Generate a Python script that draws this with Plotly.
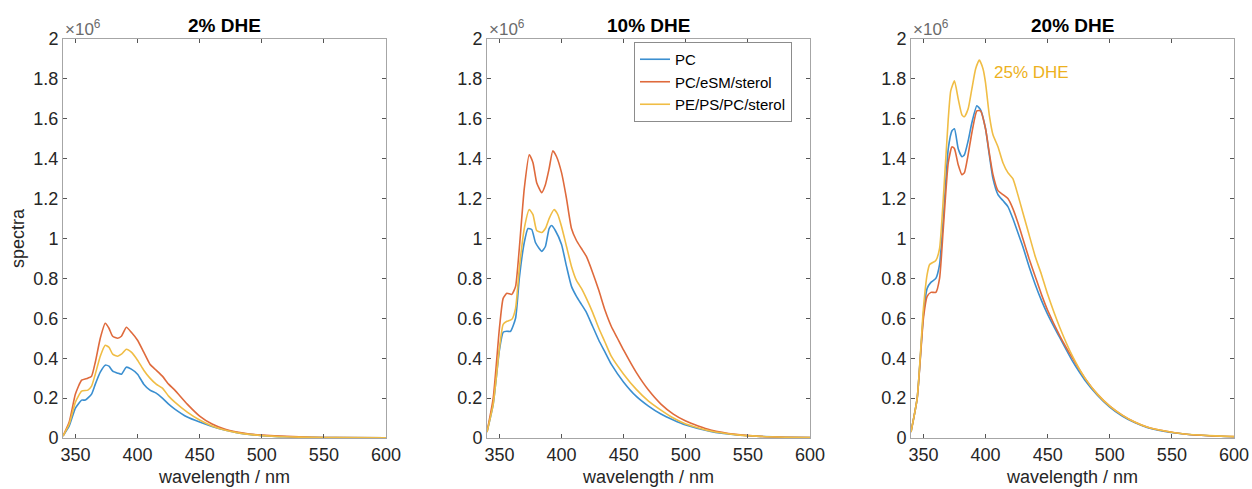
import plotly.graph_objects as go

# ---------------- data (values in units of 1e6) ----------------
titles = ["2% DHE", "10% DHE", "20% DHE"]
series_names = ["PC", "PC/eSM/sterol", "PE/PS/PC/sterol"]
colors = ["#3b8fd0", "#df6a3c", "#f0bd45"]

# Panel 1: 2% DHE
p1_pc_x = [340, 345, 350, 355, 358, 363, 366, 370, 374, 377, 380, 384, 387, 391, 395, 400, 405, 410, 415, 420, 425, 430, 440, 450, 460, 470, 480, 490, 500, 520, 540, 560, 600]
p1_pc_y = [0.01, 0.06, 0.15, 0.19, 0.19, 0.22, 0.27, 0.33, 0.365, 0.36, 0.335, 0.325, 0.32, 0.355, 0.345, 0.32, 0.27, 0.24, 0.225, 0.20, 0.17, 0.145, 0.105, 0.08, 0.058, 0.04, 0.027, 0.018, 0.012, 0.006, 0.003, 0.002, 0.001]
p1_sm_x = [340, 345, 350, 355, 360, 363, 366, 370, 374, 377, 380, 384, 387, 391, 395, 400, 405, 410, 415, 420, 425, 430, 440, 450, 460, 470, 480, 490, 500, 520, 540, 560, 600]
p1_sm_y = [0.01, 0.08, 0.22, 0.29, 0.30, 0.31, 0.38, 0.50, 0.575, 0.55, 0.51, 0.50, 0.51, 0.555, 0.53, 0.49, 0.43, 0.37, 0.34, 0.31, 0.27, 0.24, 0.17, 0.11, 0.07, 0.045, 0.03, 0.02, 0.015, 0.008, 0.004, 0.002, 0.001]
p1_pe_x = [340, 345, 350, 355, 360, 363, 366, 370, 374, 377, 380, 384, 387, 391, 395, 400, 405, 410, 415, 420, 425, 430, 440, 450, 460, 470, 480, 490, 500, 520, 540, 560, 600]
p1_pe_y = [0.01, 0.07, 0.18, 0.235, 0.24, 0.26, 0.32, 0.41, 0.465, 0.455, 0.42, 0.41, 0.42, 0.445, 0.43, 0.39, 0.34, 0.30, 0.27, 0.25, 0.21, 0.18, 0.13, 0.09, 0.06, 0.04, 0.027, 0.018, 0.012, 0.006, 0.003, 0.002, 0.001]

# Panel 2: 10% DHE
p2_pc_x = [340, 345, 350, 353, 356, 359, 363, 366, 370, 373, 376, 379, 382, 384, 387, 390, 392, 395, 400, 404, 408, 412, 416, 420, 425, 430, 435, 440, 450, 460, 470, 480, 490, 500, 520, 540, 560, 580, 600]
p2_pc_y = [0.03, 0.17, 0.44, 0.53, 0.535, 0.535, 0.60, 0.80, 0.98, 1.05, 1.045, 0.98, 0.95, 0.935, 0.96, 1.05, 1.065, 1.04, 0.97, 0.86, 0.76, 0.71, 0.67, 0.63, 0.56, 0.49, 0.43, 0.37, 0.28, 0.21, 0.16, 0.12, 0.09, 0.065, 0.033, 0.016, 0.008, 0.004, 0.002]
p2_sm_x = [340, 345, 350, 353, 356, 360, 363, 366, 370, 374, 377, 380, 384, 387, 390, 393, 396, 400, 404, 408, 412, 416, 420, 425, 430, 435, 440, 445, 450, 460, 470, 480, 490, 500, 510, 520, 540, 560, 580, 600]
p2_sm_y = [0.03, 0.20, 0.55, 0.70, 0.725, 0.72, 0.76, 0.95, 1.25, 1.42, 1.38, 1.28, 1.23, 1.27, 1.35, 1.44, 1.41, 1.33, 1.20, 1.05, 0.99, 0.95, 0.91, 0.83, 0.74, 0.64, 0.56, 0.50, 0.44, 0.33, 0.24, 0.17, 0.12, 0.085, 0.06, 0.04, 0.018, 0.008, 0.004, 0.002]
p2_pe_x = [340, 345, 350, 353, 356, 360, 363, 366, 370, 374, 377, 380, 384, 387, 390, 394, 397, 400, 404, 408, 412, 416, 420, 425, 430, 435, 440, 450, 460, 470, 480, 490, 500, 520, 540, 560, 580, 600]
p2_pe_y = [0.03, 0.17, 0.45, 0.57, 0.585, 0.595, 0.65, 0.85, 1.05, 1.145, 1.12, 1.04, 1.03, 1.05, 1.10, 1.145, 1.12, 1.06, 0.96, 0.86, 0.79, 0.75, 0.70, 0.63, 0.55, 0.48, 0.41, 0.32, 0.245, 0.185, 0.14, 0.10, 0.07, 0.035, 0.017, 0.008, 0.004, 0.002]

# Panel 3: 20% DHE (PE/PS/PC/sterol at 25% DHE)
p3_pc_x = [340, 345, 350, 353, 356, 360, 363, 366, 370, 373, 375, 378, 381, 383, 386, 389, 393, 396, 400, 403, 406, 410, 414, 418, 422, 426, 430, 435, 440, 445, 450, 460, 470, 480, 490, 500, 510, 520, 530, 540, 560, 580, 600]
p3_pc_y = [0.03, 0.20, 0.62, 0.75, 0.78, 0.80, 0.87, 1.10, 1.45, 1.54, 1.55, 1.45, 1.41, 1.42, 1.49, 1.58, 1.665, 1.645, 1.55, 1.42, 1.30, 1.22, 1.19, 1.16, 1.10, 1.03, 0.96, 0.86, 0.77, 0.69, 0.62, 0.50, 0.385, 0.29, 0.215, 0.155, 0.11, 0.077, 0.053, 0.038, 0.02, 0.011, 0.006]
p3_sm_x = [340, 345, 350, 353, 356, 360, 363, 366, 370, 373, 375, 378, 381, 383, 386, 389, 393, 396, 400, 403, 406, 410, 414, 418, 422, 426, 430, 435, 440, 445, 450, 460, 470, 480, 490, 500, 510, 520, 530, 540, 560, 580, 600]
p3_sm_y = [0.03, 0.20, 0.60, 0.71, 0.73, 0.73, 0.80, 1.05, 1.38, 1.46, 1.45, 1.37, 1.32, 1.33, 1.42, 1.53, 1.64, 1.64, 1.55, 1.43, 1.32, 1.24, 1.22, 1.20, 1.15, 1.08, 1.00, 0.90, 0.81, 0.72, 0.64, 0.51, 0.40, 0.30, 0.22, 0.16, 0.115, 0.08, 0.055, 0.04, 0.02, 0.011, 0.007]
p3_pe_x = [340, 345, 350, 353, 355, 360, 363, 366, 370, 372, 375, 378, 381, 383, 386, 389, 392, 395, 398, 400, 403, 406, 410, 414, 418, 422, 426, 430, 435, 440, 445, 450, 460, 470, 480, 490, 500, 510, 520, 530, 540, 560, 580, 600]
p3_pe_y = [0.03, 0.20, 0.65, 0.82, 0.87, 0.89, 0.95, 1.20, 1.60, 1.74, 1.79, 1.70, 1.62, 1.61, 1.65, 1.75, 1.85, 1.895, 1.85, 1.78, 1.62, 1.52, 1.46, 1.38, 1.33, 1.30, 1.22, 1.13, 1.02, 0.91, 0.82, 0.72, 0.55, 0.41, 0.30, 0.22, 0.16, 0.115, 0.08, 0.055, 0.04, 0.02, 0.012, 0.007]

x_ticks = [350, 400, 450, 500, 550, 600]
y_ticks = [0, 0.2, 0.4, 0.6, 0.8, 1, 1.2, 1.4, 1.6, 1.8, 2]
y_ticklabels = ["0", "0.2", "0.4", "0.6", "0.8", "1", "1.2", "1.4", "1.6", "1.8", "2"]

panels = [
    [(p1_pc_x, p1_pc_y), (p1_sm_x, p1_sm_y), (p1_pe_x, p1_pe_y)],
    [(p2_pc_x, p2_pc_y), (p2_sm_x, p2_sm_y), (p2_pe_x, p2_pe_y)],
    [(p3_pc_x, p3_pc_y), (p3_sm_x, p3_sm_y), (p3_pe_x, p3_pe_y)],
]

# ---------------- figure ----------------
W, H = 1252, 489
x_dom = [(63 / W, 386 / W), (487 / W, 810 / W), (911 / W, 1234 / W)]
y_dom = (1 - 438 / H, 1 - 39 / H)

fig = go.Figure()
FONT = "Liberation Sans, Arial, sans-serif"
TXT = "#262626"
AXC = "#a6a6a6"

for i, series in enumerate(panels):
    xa = "x" if i == 0 else f"x{i+1}"
    ya = "y" if i == 0 else f"y{i+1}"
    for j, (xs, ys) in enumerate(series):
        fig.add_trace(go.Scatter(
            x=xs, y=ys, mode="lines", name=series_names[j],
            line=dict(color=colors[j], width=1.6, shape="spline", smoothing=0.5),
            xaxis=xa, yaxis=ya, showlegend=(i == 1),
        ))
    axis_common = dict(showline=True, linecolor=AXC, linewidth=1, mirror="ticks",
                       ticks="inside", ticklen=4, tickcolor="#555555", showgrid=False,
                       zeroline=False, automargin=False,
                       tickfont=dict(family=FONT, size=18, color=TXT))
    fig.layout[f"xaxis{'' if i == 0 else i+1}"] = dict(
        domain=x_dom[i], range=[340, 600], tickvals=x_ticks, anchor=ya,
        title=dict(text="wavelength / nm", font=dict(family=FONT, size=18, color=TXT), standoff=6),
        **axis_common)
    fig.layout[f"yaxis{'' if i == 0 else i+1}"] = dict(
        domain=y_dom, range=[0, 2], tickvals=y_ticks, ticktext=y_ticklabels, anchor=xa,
        title=dict(text="spectra" if i == 0 else "", font=dict(family=FONT, size=18, color=TXT), standoff=4),
        **axis_common)
    cx = (x_dom[i][0] + x_dom[i][1]) / 2
    fig.add_annotation(x=cx, y=1 - 25 / H, xref="paper", yref="paper", text=f"<b>{titles[i]}</b>",
                       showarrow=False, font=dict(family=FONT, size=19, color="#000000"),
                       xanchor="center", yanchor="middle")
    fig.add_annotation(x=x_dom[i][0] + 0 / W, y=y_dom[1] - 2 / H, xref="paper", yref="paper",
                       text="×10<sup>6</sup>", showarrow=False,
                       font=dict(family=FONT, size=17, color="#6b6b6b"),
                       xanchor="left", yanchor="bottom")

fig.add_annotation(x=405, y=1.83, xref="x3", yref="y3", text="25% DHE", showarrow=False,
                   font=dict(family=FONT, size=17, color="#edb120"), xanchor="left", yanchor="middle")

fig.update_layout(
    width=W, height=H, margin=dict(l=0, r=0, t=0, b=0),
    paper_bgcolor="white", plot_bgcolor="white",
    legend=dict(x=634 / W, y=1 - 42 / H, xanchor="left", yanchor="top",
                bgcolor="white", bordercolor="#8c8c8c", borderwidth=1,
                font=dict(family=FONT, size=15, color="#000000"),
                tracegroupgap=0, itemwidth=30),
)

fig.write_html("out.html")
